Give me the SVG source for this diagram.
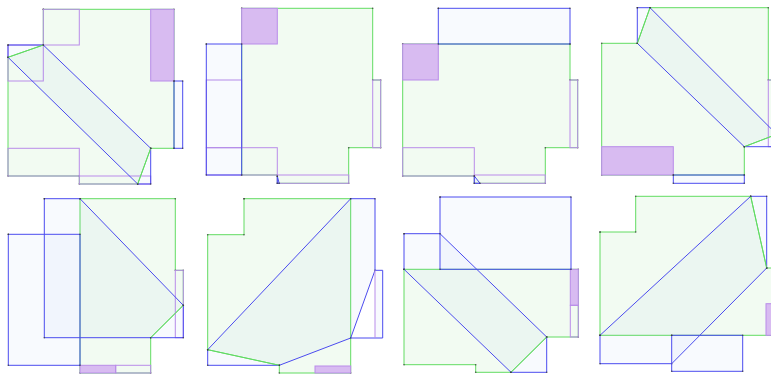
<svg xmlns="http://www.w3.org/2000/svg" width="771" height="374" viewBox="0 0 771 374">
<style>
.g{fill:rgba(0,180,0,0.05);stroke:#62dc62;stroke-width:1}
.b{fill:rgba(60,110,230,0.035);stroke:#4b4bef;stroke-width:1}
.bl{fill:none;stroke:#4b4bef;stroke-width:1}
.p{fill:none;stroke:#b98ce9;stroke-width:1}
.pf{fill:#d8bbf1;stroke:#b98ce9;stroke-width:1}
.g,.b{marker-start:url(#dot);marker-mid:url(#dot);marker-end:url(#dot)}
</style>
<defs>
<marker id="dot" markerUnits="userSpaceOnUse" markerWidth="3" markerHeight="3" refX="1.5" refY="1.5">
<circle cx="1.5" cy="1.5" r="0.8" fill="#333" fill-opacity="0.8"/>
</marker>
</defs>
<rect width="771" height="374" fill="#ffffff"/>

<g id="panel1">
<polygon class="g" points="43.3,9.3 174,9.3 174,148.3 150.7,148.3 137.7,184 79.3,184 79.3,176 8,176 8,57.3 43.3,45"/>
<rect class="p" x="43.3" y="9.3" width="36" height="35.7"/>
<rect class="p" x="8" y="45" width="35.3" height="36"/>
<rect class="pf" x="150.7" y="9.3" width="23.3" height="71.7"/>
<rect class="p" x="8" y="148.3" width="71.3" height="27.7"/>
<rect class="p" x="79.3" y="176" width="71.4" height="8"/>
<polygon class="b" points="8,45 43.3,45 150.7,148.3 150.7,184 137.7,184 8,57.3"/>
<polygon class="b" points="174,81 182.7,81 182.7,148.3 174,148.3"/>
<polyline class="g" style="fill:none" points="8,57.3 43.3,45"/>
<polyline class="g" style="fill:none" points="150.7,148.3 137.7,184"/>
</g>

<g id="panel2">
<polygon class="g" points="241.7,8.3 372.7,8.3 372.7,80 380.7,80 380.7,147.7 348.7,147.7 348.7,183.3 277.3,183.3 277.3,175 241.7,175"/>
<rect class="pf" x="241.7" y="8.3" width="35.6" height="35.7"/>
<rect class="p" x="206.3" y="80" width="35.4" height="67.7"/>
<rect class="p" x="206.3" y="147.7" width="71" height="27.3"/>
<rect class="p" x="277.3" y="175" width="71.4" height="8.3"/>
<rect class="p" x="372.7" y="80" width="8" height="67.7"/>
<polygon class="b" points="206.3,44 241.7,44 241.7,175 206.3,175"/>
<polygon class="b" points="277.3,176.3 277.3,183.3 279.2,183.3"/>
</g>

<g id="panel3">
<polygon class="g" points="402.7,44 570,44 570,80 577.7,80 577.7,147.7 545.3,147.7 545.3,183.3 474.3,183.3 474.3,176 402.7,176"/>
<rect class="pf" x="402.7" y="44" width="35.6" height="36"/>
<rect class="p" x="402.7" y="147.7" width="71.6" height="28.3"/>
<rect class="p" x="474.3" y="175" width="71" height="8.3"/>
<rect class="p" x="570" y="80" width="7.7" height="67.7"/>
<polygon class="b" points="438.3,8.3 570,8.3 570,44 438.3,44"/>
<polygon class="b" points="474.3,176 474.3,183.3 480,183.3"/>
</g>

<g id="panel4">
<polygon class="g" points="650,7.7 768.3,7.7 768.3,80 776.7,80 776.7,134.3 744.3,146.7 744.3,175 601.7,175 601.7,43.3 637.3,43.3"/>
<rect class="pf" x="601.7" y="146.7" width="71.6" height="28.3"/>
<rect class="p" x="768.3" y="80" width="8.4" height="66.7"/>
<polygon class="b" points="637.3,7.7 650,7.7 776.7,134.3 776.7,146.7 744.3,146.7 637.3,43.3"/>
<polygon class="b" points="673.3,175 744.3,175 744.3,183.3 673.3,183.3"/>
<polyline class="g" style="fill:none" points="637.3,43.3 650,7.7"/>
<polyline class="g" style="fill:none" points="744.3,146.7 776.7,134.3"/>
</g>

<g id="panel5">
<polygon class="g" points="80,198.7 175.3,198.7 175.3,270.3 183.3,270.3 183.3,305.3 150.7,337.7 150.7,373 80,373"/>
<rect class="pf" x="80" y="365.3" width="35.7" height="7.7"/>
<rect class="p" x="115.7" y="365.3" width="35" height="7.7"/>
<rect class="p" x="175.3" y="270.3" width="8" height="67.4"/>
<polygon class="b" points="44.3,198.7 80,198.7 183.3,305.3 183.3,337.7 44.3,337.7"/>
<polygon class="b" points="8.3,234.3 80,234.3 80,365.3 8.3,365.3"/>
<polyline class="g" style="fill:none" points="183.3,305.3 150.7,337.7"/>
</g>

<g id="panel6">
<polygon class="g" points="244,198.7 350.7,198.7 350.7,373 279.3,373 279.3,365.3 207.7,349.7 207.7,234.7 244,234.7"/>
<rect class="pf" x="315" y="366" width="35.7" height="7"/>
<polygon class="b" points="207.7,349.7 350.7,198.7 375,198.7 375,270.3 350.7,338 279.3,365.3 207.7,365.3"/>
<rect x="375" y="270.3" width="7.7" height="67.7" fill="rgba(60,110,230,0.035)"/>
<polyline class="bl" points="375,270.3 382.7,270.3 382.7,338 350.7,338"/>
<line class="p" x1="375" y1="270.3" x2="375" y2="338"/>
<polyline class="g" style="fill:none" points="207.7,349.7 279.3,365.3"/>
</g>

<g id="panel7">
<polygon class="g" points="404,269.3 578.3,269.3 578.3,337 546.7,337 511,372.3 475.7,372.3 475.7,364.7 404,364.7"/>
<rect class="pf" x="570.3" y="269.3" width="8" height="36"/>
<rect class="p" x="570.3" y="305.3" width="8" height="31.7"/>
<polygon class="b" points="440,197 571,197 571,269.3 440,269.3"/>
<polygon class="b" points="404,233.7 440,233.7 546.7,337 546.7,372.3 511,372.3 404,269.3"/>
<polyline class="g" style="fill:none" points="546.7,337 511,372.3"/>
</g>

<g id="panel8">
<polygon class="g" points="600,232 635.7,232 635.7,196.3 750.7,196.3 766.7,268 775,268 775,335.3 600,335.3"/>
<rect class="pf" x="766" y="303.7" width="9" height="31.6"/>
<polygon class="b" points="600,335.3 750.7,196.3 766.7,196.3 766.7,268 671.7,363.7 600,363.7"/>
<polygon class="b" points="671.7,335.3 742.7,335.3 742.7,371.3 671.7,371.3"/>
<polyline class="g" style="fill:none" points="750.7,196.3 766.7,268"/>
</g>
</svg>
